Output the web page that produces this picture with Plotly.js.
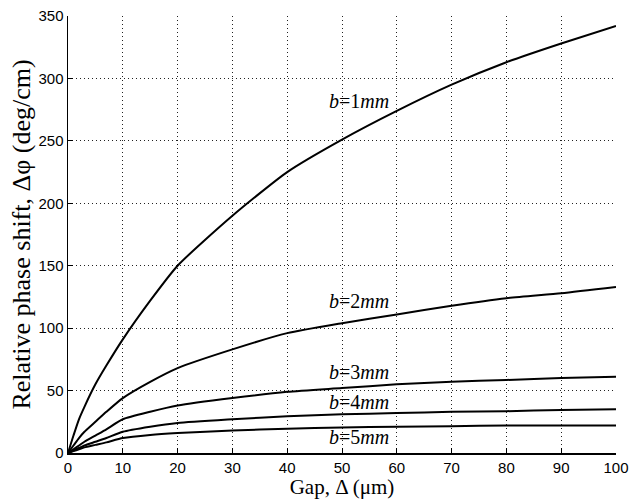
<!DOCTYPE html>
<html>
<head>
<meta charset="utf-8">
<script src="https://cdn.plot.ly/plotly-3.0.1.min.js"></script>
<style>html,body{margin:0;padding:0;background:#fff;}#chart{width:642px;height:504px;}</style>
</head>
<body>
<div id="chart"></div>
<script>
// Gap values (µm)
const gap = [0, 1, 2, 3, 5, 7, 10, 15, 20, 30, 40, 50, 60, 70, 80, 90, 100];
// Relative phase shift (deg/cm) for each b
const b1mm = [0, 14, 27, 37, 55, 70, 91, 122, 150, 190, 225, 251, 274, 295, 313, 328, 342];
const b2mm = [0, 6, 12, 17, 25, 33, 44, 57, 68, 83, 96, 104, 111, 118, 124, 128, 133];
const b3mm = [0, 3, 6, 9, 14, 19, 27, 33, 38, 44, 49, 52, 55, 57, 58.5, 60, 61];
const b4mm = [0, 2, 4, 6, 9, 12, 17, 21, 24, 27, 29.5, 31, 32, 33, 33.5, 34.5, 35];
const b5mm = [0, 1.5, 3, 4.5, 6.5, 8.5, 12, 14.5, 16, 18, 19.5, 20.5, 21, 21.5, 22, 22, 22];
const seriesNames = ["b=1mm", "b=2mm", "b=3mm", "b=4mm", "b=5mm"];
const labelText = ["<i>b</i>=1<i>mm</i>", "<i>b</i>=2<i>mm</i>", "<i>b</i>=3<i>mm</i>", "<i>b</i>=4<i>mm</i>", "<i>b</i>=5<i>mm</i>"];
const labelX = [47.3, 47.3, 47.3, 47.3, 47.3];
const labelY = [282, 122, 65, 41, 13];
const xTicks = [0, 10, 20, 30, 40, 50, 60, 70, 80, 90, 100];
const yTicks = [0, 50, 100, 150, 200, 250, 300, 350];

const allY = [b1mm, b2mm, b3mm, b4mm, b5mm];
const traces = allY.map((ys, i) => ({
  x: gap, y: ys, type: 'scatter', mode: 'lines', name: seriesNames[i],
  line: {color: '#000', width: 2, shape: 'spline', smoothing: 0.6},
  showlegend: false, hoverinfo: 'skip'
}));

const serif = '"Liberation Serif", "Times New Roman", serif';
const sans = '"Liberation Sans", Arial, sans-serif';

const annotations = labelText.map((t, i) => ({
  x: labelX[i], y: labelY[i], xref: 'x', yref: 'y', text: t, showarrow: false,
  xanchor: 'left', yanchor: 'middle',
  font: {family: serif, size: 20, color: '#000'}
}));

const layout = {
  width: 642, height: 504,
  margin: {l: 68, r: 26, t: 16, b: 51, pad: 0},
  paper_bgcolor: '#fff', plot_bgcolor: '#fff',
  xaxis: {
    range: [0, 100], tickvals: xTicks, ticktext: xTicks.map(String),
    showline: true, linecolor: '#000', linewidth: 1.5, mirror: false,
    ticks: 'inside', ticklen: 5, tickcolor: '#000',
    showgrid: true, gridcolor: '#222', griddash: '1px,3px', gridwidth: 1,
    zeroline: false,
    tickfont: {family: sans, size: 15, color: '#000'},
    title: {text: 'Gap, Δ (μm)', font: {family: serif, size: 21, color: '#000'}, standoff: 4}
  },
  yaxis: {
    range: [0, 350], tickvals: yTicks, ticktext: yTicks.map(String),
    showline: true, linecolor: '#000', linewidth: 1.5, mirror: false,
    ticks: 'inside', ticklen: 5, tickcolor: '#000',
    showgrid: true, gridcolor: '#222', griddash: '1px,3px', gridwidth: 1,
    zeroline: false,
    tickfont: {family: sans, size: 15, color: '#000'},
    title: {text: 'Relative phase shift, Δφ (deg/cm)', font: {family: serif, size: 26, color: '#000'}, standoff: 0}
  },
  annotations: annotations,
  showlegend: false
};

Plotly.newPlot('chart', traces, layout, {displayModeBar: false, staticPlot: true});
</script>
</body>
</html>
